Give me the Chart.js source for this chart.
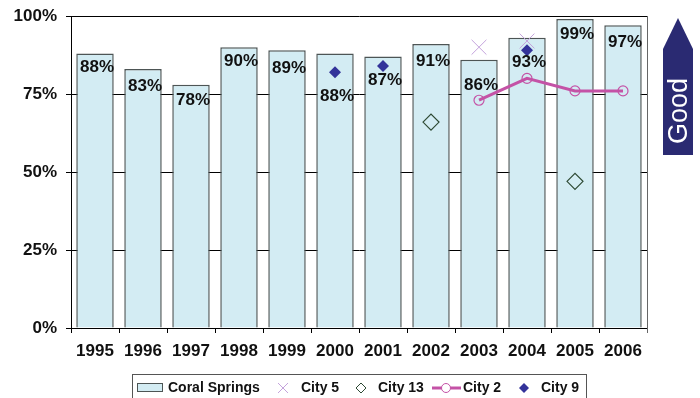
<!DOCTYPE html>
<html>
<head>
<meta charset="utf-8">
<script src="https://cdn.jsdelivr.net/npm/chart.js@4"></script>
<style>
  html, body { margin: 0; padding: 0; background: #fff; }
  #wrap { width: 700px; height: 398px; }
</style>
</head>
<body>
<div id="wrap"><canvas id="chart" width="700" height="398"></canvas></div>
<script>
const years = ['1995','1996','1997','1998','1999','2000','2001','2002','2003','2004','2005','2006'];
const coralSprings = [88, 83, 78, 90, 89, 88, 87, 91, 86, 93, 99, 97];
const city5  = [null, null, null, null, null, null, null, null, 90, 92, null, null];
const city13 = [null, null, null, null, null, null, null, 66, null, null, 47, null];
const city2  = [null, null, null, null, null, null, null, null, 73, 80, 76, 76];
const city9  = [null, null, null, null, null, 82, 84, null, null, 89, null, null];
const yTicks = [0, 25, 50, 75, 100];

const FONT = '"Liberation Sans", Arial, sans-serif';
const barFill = '#d3ecf3';
const barEdge = '#4d5555';

// vertical gap between bar top and centre of its label
const labelDrop = [14, 17, 16, 14, 18, 43, 24, 17, 26, 24, 15, 17];

const barLabels = {
  id: 'barLabels',
  afterDatasetsDraw(chart) {
    const meta = chart.getDatasetMeta(0);
    const ctx = chart.ctx;
    ctx.save();
    ctx.font = 'bold 17px ' + FONT;
    ctx.fillStyle = '#111';
    ctx.textAlign = 'center';
    ctx.textBaseline = 'middle';
    meta.data.forEach((bar, i) => {
      ctx.fillText(coralSprings[i] + '%', bar.x + 2, bar.y + labelDrop[i]);
    });
    ctx.restore();
  }
};

const frame = {
  id: 'frame',
  afterDraw(chart) {
    const ctx = chart.ctx;
    const a = chart.chartArea;
    ctx.save();
    // right border of plot
    ctx.strokeStyle = '#666';
    ctx.lineWidth = 1;
    ctx.beginPath();
    ctx.moveTo(Math.round(a.right) + 0.5, a.top);
    ctx.lineTo(Math.round(a.right) + 0.5, a.bottom + 5);
    ctx.stroke();

    // "Good" arrow
    ctx.fillStyle = '#2a2a72';
    ctx.beginPath();
    ctx.moveTo(678, 18);
    ctx.lineTo(693, 49);
    ctx.lineTo(693, 155);
    ctx.lineTo(663, 155);
    ctx.lineTo(663, 49);
    ctx.closePath();
    ctx.fill();
    ctx.translate(679, 111);
    ctx.rotate(-Math.PI / 2);
    ctx.fillStyle = '#fff';
    ctx.font = '27px ' + FONT;
    ctx.textAlign = 'center';
    ctx.textBaseline = 'middle';
    ctx.fillText('Good', 0, 1);
    ctx.restore();

    // legend
    const ds = chart.data.datasets;
    ctx.save();
    ctx.strokeStyle = '#555';
    ctx.lineWidth = 1;
    ctx.strokeRect(132.5, 374.5, 454, 30);
    ctx.font = 'bold 14px ' + FONT;
    ctx.fillStyle = '#111';
    ctx.textBaseline = 'middle';
    const ty = 388;
    // Coral Springs swatch
    ctx.fillStyle = barFill;
    ctx.fillRect(137, 383, 26, 9);
    ctx.strokeStyle = barEdge;
    ctx.strokeRect(137.5, 383.5, 25, 8);
    ctx.fillStyle = '#111';
    ctx.fillText(ds[0].label, 168, ty);
    // City 5
    ctx.strokeStyle = ds[1].borderColor;
    ctx.lineWidth = 1;
    ctx.beginPath();
    ctx.moveTo(278, 383); ctx.lineTo(288, 393);
    ctx.moveTo(288, 383); ctx.lineTo(278, 393);
    ctx.stroke();
    ctx.fillText(ds[1].label, 301, ty);
    // City 13
    ctx.strokeStyle = ds[2].borderColor;
    ctx.beginPath();
    ctx.moveTo(361, ty - 5); ctx.lineTo(366, ty); ctx.lineTo(361, ty + 5); ctx.lineTo(356, ty); ctx.closePath();
    ctx.stroke();
    ctx.fillText(ds[2].label, 378, ty);
    // City 2
    ctx.strokeStyle = ds[3].borderColor;
    ctx.lineWidth = 3;
    ctx.beginPath();
    ctx.moveTo(432, ty); ctx.lineTo(461, ty);
    ctx.stroke();
    ctx.lineWidth = 1;
    ctx.fillStyle = '#fff';
    ctx.beginPath();
    ctx.arc(446, ty, 4.5, 0, Math.PI * 2);
    ctx.fill();
    ctx.stroke();
    ctx.fillStyle = '#111';
    ctx.fillText(ds[3].label, 463, ty);
    // City 9
    ctx.fillStyle = ds[4].backgroundColor;
    ctx.beginPath();
    ctx.moveTo(524, ty - 5); ctx.lineTo(529, ty); ctx.lineTo(524, ty + 5); ctx.lineTo(519, ty); ctx.closePath();
    ctx.fill();
    ctx.fillStyle = '#111';
    ctx.fillText(ds[4].label, 541, ty);
    ctx.restore();
  }
};

new Chart(document.getElementById('chart'), {
  type: 'bar',
  data: {
    labels: years,
    datasets: [
      {
        type: 'bar',
        label: 'Coral Springs',
        data: coralSprings,
        backgroundColor: barFill,
        borderColor: barEdge,
        borderWidth: 1.5,
        categoryPercentage: 1,
        barPercentage: 0.78,
        order: 10
      },
      {
        type: 'line',
        label: 'City 5',
        data: city5,
        showLine: false,
        pointStyle: 'crossRot',
        pointRadius: 10.5,
        pointBorderWidth: 1,
        borderColor: '#c4a3dc',
        backgroundColor: '#c4a3dc',
        order: 4
      },
      {
        type: 'line',
        label: 'City 13',
        data: city13,
        showLine: false,
        pointStyle: 'rectRot',
        pointRadius: 8,
        pointBorderWidth: 1.2,
        borderColor: '#2e4a34',
        backgroundColor: 'rgba(0,0,0,0)',
        order: 3
      },
      {
        type: 'line',
        label: 'City 2',
        data: city2,
        borderColor: '#c452a6',
        backgroundColor: 'rgba(255,255,255,0)',
        borderWidth: 3,
        pointStyle: 'circle',
        pointRadius: 5,
        pointBorderWidth: 1.2,
        pointBackgroundColor: 'rgba(255,255,255,0)',
        pointBorderColor: '#c452a6',
        tension: 0,
        order: 2
      },
      {
        type: 'line',
        label: 'City 9',
        data: city9,
        showLine: false,
        pointStyle: 'rectRot',
        pointRadius: 6,
        pointBorderWidth: 0,
        borderColor: '#33339a',
        backgroundColor: '#33339a',
        order: 1
      }
    ]
  },
  options: {
    responsive: false,
    animation: false,
    layout: { padding: { left: 0, right: 53, top: 16, bottom: 0 } },
    plugins: {
      legend: { display: false },
      tooltip: { enabled: false }
    },
    scales: {
      x: {
        grid: {
          offset: true,
          drawOnChartArea: false,
          drawTicks: true,
          tickLength: 5,
          color: '#000'
        },
        border: { color: '#000', width: 1 },
        ticks: {
          font: { family: FONT, size: 17, weight: 'bold' },
          color: '#111',
          padding: 8,
          maxRotation: 0,
          autoSkip: false
        },
        afterFit(scale) { scale.height = 70; }
      },
      y: {
        min: 0,
        max: 100,
        afterBuildTicks(scale) { scale.ticks = yTicks.map(v => ({ value: v })); },
        grid: {
          color: '#000',
          lineWidth: 1,
          drawTicks: true,
          tickLength: 5
        },
        border: { color: '#000', width: 1 },
        ticks: {
          font: { family: FONT, size: 17, weight: 'bold' },
          color: '#111',
          padding: 9,
          callback: v => v + '%'
        },
        afterFit(scale) {
          scale.width = 71;
          scale.paddingTop = 0;
          scale.paddingBottom = 0;
        }
      }
    }
  },
  plugins: [barLabels, frame]
});
</script>
</body>
</html>
